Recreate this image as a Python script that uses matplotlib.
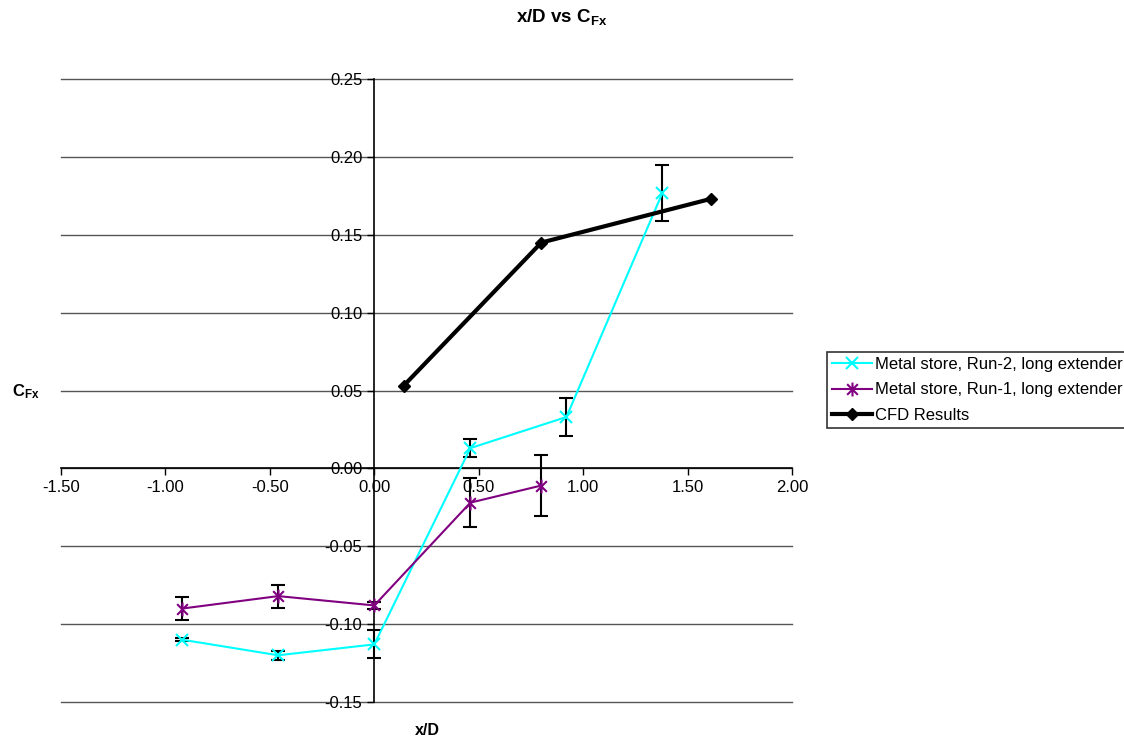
import matplotlib
matplotlib.use('Agg')
import matplotlib.pyplot as plt
from matplotlib.path import Path

plt.rcParams['font.family'] = ['Liberation Sans', 'DejaVu Sans']
plt.rcParams['mathtext.fontset'] = 'custom'
plt.rcParams['mathtext.rm'] = 'Liberation Sans'
plt.rcParams['mathtext.bf'] = 'Liberation Sans:bold'

# Данные
run2_x = [-0.92, -0.46, 0.00, 0.46, 0.92, 1.38]
run2_y = [-0.110, -0.120, -0.113, 0.013, 0.033, 0.177]
run2_err = [0.001, 0.003, 0.009, 0.006, 0.012, 0.018]

run1_x = [-0.92, -0.46, 0.00, 0.46, 0.80]
run1_y = [-0.090, -0.082, -0.088, -0.022, -0.011]
run1_err = [0.0075, 0.0074, 0.002, 0.0157, 0.0195]

cfd_x = [0.14, 0.80, 1.61]
cfd_y = [0.053, 0.145, 0.173]

x_ticks = [-1.5, -1.0, -0.5, 0.0, 0.5, 1.0, 1.5, 2.0]
y_ticks = [-0.15, -0.10, -0.05, 0.00, 0.05, 0.10, 0.15, 0.20, 0.25]

# Маркер "звёздочка" как в Excel: крест + вертикальная линия
star = Path([(-1, -1), (1, 1), (-1, 1), (1, -1), (0, -1.3), (0, 1.3)],
            [Path.MOVETO, Path.LINETO, Path.MOVETO, Path.LINETO, Path.MOVETO, Path.LINETO])

fig = plt.figure(figsize=(11.24, 7.42), dpi=100)
ax = fig.add_axes([0.0543, 0.0539, 0.6503, 0.8396])

ax.set_xlim(-1.5, 2.0)
ax.set_ylim(-0.15, 0.25)
ax.set_xticks(x_ticks)
ax.set_yticks(y_ticks)
ax.set_xticklabels([f"{v:.2f}" for v in x_ticks])
ax.set_yticklabels([f"{v:.2f}" for v in y_ticks])

ax.spines['left'].set_position(('data', 0))
ax.spines['bottom'].set_position(('data', 0))
ax.spines['top'].set_visible(False)
ax.spines['right'].set_visible(False)
for s in ('left', 'bottom'):
    ax.spines[s].set_color('black')
    ax.spines[s].set_linewidth(1.2)

ax.yaxis.grid(True, color='#555555', linewidth=1)
for gl in ax.get_ygridlines():
    gl.set_clip_on(False)
ax.set_axisbelow(True)
ax.tick_params(axis='both', direction='out', length=5, width=1, labelsize=12, colors='black')

# Погрешности
ax.errorbar(run2_x, run2_y, yerr=run2_err, fmt='none', ecolor='black', elinewidth=1.5,
            capsize=5, capthick=1.5, zorder=3)
ax.errorbar(run1_x, run1_y, yerr=run1_err, fmt='none', ecolor='black', elinewidth=1.5,
            capsize=5, capthick=1.5, zorder=3)

ax.plot(run2_x, run2_y, color='#00FFFF', linewidth=1.5, marker='x', markersize=8,
        markeredgewidth=1.5, label='Metal store, Run-2, long extender', zorder=4)
ax.plot(run1_x, run1_y, color='#800080', linewidth=1.5, marker=star, markersize=10,
        markeredgewidth=1.5, label='Metal store, Run-1, long extender', zorder=4)
ax.plot(cfd_x, cfd_y, color='black', linewidth=3, marker='D', markersize=6,
        label='CFD Results', zorder=5)

fig.text(0.5, 0.977, r'x/D vs $\mathbf{C_{Fx}}$', ha='center', va='center',
         fontsize=13.5, fontweight='bold')
fig.text(0.38, 0.016, 'x/D', ha='center', va='center', fontsize=11.5, fontweight='bold')
fig.text(0.011, 0.472, r'$\mathbf{C_{Fx}}$', ha='left', va='center', fontsize=12)

leg = fig.legend(loc='center left', bbox_to_anchor=(0.7358, 0.4744), fontsize=12,
                 frameon=True, fancybox=False, edgecolor='black', handlelength=2.4,
                 handletextpad=0.2, labelspacing=0.65, borderpad=0.3, borderaxespad=0)
leg.get_frame().set_linewidth(1.2)

fig.savefig('out.png', dpi=100)
